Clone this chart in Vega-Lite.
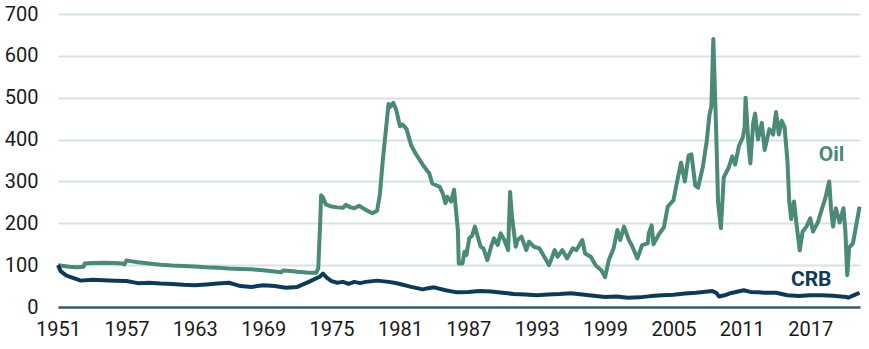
{
  "$schema": "https://vega.github.io/schema/vega-lite/v6.json",
  "width": 802,
  "height": 293,
  "autosize": "none",
  "padding": {"left": 58, "top": 14, "right": 9, "bottom": 42},
  "config": {"view": {"stroke": null}, "font": "Roboto"},
  "datasets": {
    "lines": [
      {"d":"1951-01-01","v":100,"s":"Oil"},{"d":"1951-07-01","v":98,"s":"Oil"},{"d":"1952-01-01","v":96,"s":"Oil"},{"d":"1952-09-01","v":95,"s":"Oil"},{"d":"1953-04-01","v":96,"s":"Oil"},{"d":"1953-05-01","v":104,"s":"Oil"},{"d":"1954-01-01","v":105,"s":"Oil"},{"d":"1955-01-01","v":106,"s":"Oil"},{"d":"1956-01-01","v":105,"s":"Oil"},{"d":"1956-09-01","v":104,"s":"Oil"},{"d":"1956-11-01","v":102,"s":"Oil"},{"d":"1957-01-01","v":111,"s":"Oil"},{"d":"1957-07-01","v":109,"s":"Oil"},{"d":"1958-01-01","v":107,"s":"Oil"},{"d":"1959-01-01","v":104,"s":"Oil"},{"d":"1960-01-01","v":101,"s":"Oil"},{"d":"1961-01-01","v":99,"s":"Oil"},{"d":"1962-01-01","v":98,"s":"Oil"},{"d":"1963-01-01","v":97,"s":"Oil"},{"d":"1964-01-01","v":95,"s":"Oil"},{"d":"1965-01-01","v":94,"s":"Oil"},{"d":"1966-01-01","v":92,"s":"Oil"},{"d":"1967-01-01","v":91,"s":"Oil"},{"d":"1968-01-01","v":90,"s":"Oil"},{"d":"1969-01-01","v":88,"s":"Oil"},{"d":"1970-01-01","v":85,"s":"Oil"},{"d":"1970-08-01","v":83,"s":"Oil"},{"d":"1970-10-01","v":87,"s":"Oil"},{"d":"1971-06-01","v":86,"s":"Oil"},{"d":"1972-01-01","v":84,"s":"Oil"},{"d":"1973-01-01","v":82,"s":"Oil"},{"d":"1973-09-01","v":82,"s":"Oil"},{"d":"1973-11-01","v":92,"s":"Oil"},{"d":"1974-01-01","v":200,"s":"Oil"},{"d":"1974-02-01","v":267,"s":"Oil"},{"d":"1974-04-01","v":262,"s":"Oil"},{"d":"1974-07-01","v":245,"s":"Oil"},{"d":"1975-01-01","v":240,"s":"Oil"},{"d":"1975-07-01","v":238,"s":"Oil"},{"d":"1976-01-01","v":237,"s":"Oil"},{"d":"1976-04-01","v":244,"s":"Oil"},{"d":"1976-09-01","v":238,"s":"Oil"},{"d":"1977-01-01","v":236,"s":"Oil"},{"d":"1977-06-01","v":242,"s":"Oil"},{"d":"1978-01-01","v":232,"s":"Oil"},{"d":"1978-08-01","v":224,"s":"Oil"},{"d":"1979-01-01","v":230,"s":"Oil"},{"d":"1979-04-01","v":270,"s":"Oil"},{"d":"1979-07-01","v":350,"s":"Oil"},{"d":"1979-11-01","v":440,"s":"Oil"},{"d":"1980-01-01","v":485,"s":"Oil"},{"d":"1980-03-01","v":478,"s":"Oil"},{"d":"1980-06-01","v":488,"s":"Oil"},{"d":"1980-09-01","v":472,"s":"Oil"},{"d":"1981-01-01","v":432,"s":"Oil"},{"d":"1981-04-01","v":436,"s":"Oil"},{"d":"1981-08-01","v":425,"s":"Oil"},{"d":"1982-01-01","v":385,"s":"Oil"},{"d":"1982-06-01","v":365,"s":"Oil"},{"d":"1983-01-01","v":340,"s":"Oil"},
      {"d":"1983-08-01","v":319,"s":"Oil"},{"d":"1983-11-01","v":295,"s":"Oil"},{"d":"1984-07-01","v":287,"s":"Oil"},{"d":"1984-10-01","v":272,"s":"Oil"},{"d":"1985-01-01","v":248,"s":"Oil"},{"d":"1985-03-01","v":263,"s":"Oil"},{"d":"1985-07-01","v":252,"s":"Oil"},{"d":"1985-10-01","v":280,"s":"Oil"},{"d":"1986-02-01","v":184,"s":"Oil"},{"d":"1986-03-01","v":104,"s":"Oil"},{"d":"1986-07-01","v":104,"s":"Oil"},{"d":"1986-09-01","v":132,"s":"Oil"},{"d":"1986-11-01","v":124,"s":"Oil"},{"d":"1987-02-01","v":164,"s":"Oil"},{"d":"1987-05-01","v":170,"s":"Oil"},{"d":"1987-08-01","v":192,"s":"Oil"},{"d":"1987-11-01","v":168,"s":"Oil"},{"d":"1988-02-01","v":144,"s":"Oil"},{"d":"1988-05-01","v":140,"s":"Oil"},{"d":"1988-09-01","v":112,"s":"Oil"},{"d":"1989-01-01","v":144,"s":"Oil"},{"d":"1989-04-01","v":164,"s":"Oil"},{"d":"1989-08-01","v":148,"s":"Oil"},{"d":"1989-11-01","v":176,"s":"Oil"},{"d":"1990-03-01","v":160,"s":"Oil"},{"d":"1990-07-01","v":136,"s":"Oil"},{"d":"1990-09-01","v":275,"s":"Oil"},{"d":"1990-11-01","v":216,"s":"Oil"},{"d":"1991-03-01","v":144,"s":"Oil"},{"d":"1991-05-01","v":160,"s":"Oil"},{"d":"1991-09-01","v":168,"s":"Oil"},{"d":"1992-02-01","v":136,"s":"Oil"},{"d":"1992-05-01","v":156,"s":"Oil"},{"d":"1992-10-01","v":144,"s":"Oil"},{"d":"1993-04-01","v":140,"s":"Oil"},{"d":"1993-09-01","v":120,"s":"Oil"},{"d":"1994-02-01","v":100,"s":"Oil"},{"d":"1994-08-01","v":136,"s":"Oil"},{"d":"1994-11-01","v":120,"s":"Oil"},{"d":"1995-04-01","v":136,"s":"Oil"},{"d":"1995-09-01","v":116,"s":"Oil"},{"d":"1996-03-01","v":140,"s":"Oil"},{"d":"1996-07-01","v":136,"s":"Oil"},{"d":"1997-01-01","v":160,"s":"Oil"},{"d":"1997-04-01","v":128,"s":"Oil"},{"d":"1997-10-01","v":120,"s":"Oil"},{"d":"1998-03-01","v":100,"s":"Oil"},{"d":"1998-09-01","v":88,"s":"Oil"},{"d":"1999-01-01","v":71,"s":"Oil"},{"d":"1999-05-01","v":112,"s":"Oil"},{"d":"1999-10-01","v":140,"s":"Oil"},{"d":"2000-02-01","v":184,"s":"Oil"},{"d":"2000-05-01","v":160,"s":"Oil"},{"d":"2000-09-01","v":192,"s":"Oil"},{"d":"2001-02-01","v":160,"s":"Oil"},{"d":"2001-05-01","v":148,"s":"Oil"},{"d":"2001-11-01","v":116,"s":"Oil"},{"d":"2002-04-01","v":148,"s":"Oil"},{"d":"2002-10-01","v":152,"s":"Oil"},{"d":"2002-11-01","v":176,"s":"Oil"},
      {"d":"2003-02-01","v":195,"s":"Oil"},{"d":"2003-04-01","v":150,"s":"Oil"},{"d":"2003-10-01","v":175,"s":"Oil"},{"d":"2004-03-01","v":190,"s":"Oil"},{"d":"2004-07-01","v":240,"s":"Oil"},{"d":"2005-01-01","v":255,"s":"Oil"},{"d":"2005-04-01","v":290,"s":"Oil"},{"d":"2005-09-01","v":345,"s":"Oil"},{"d":"2006-01-01","v":300,"s":"Oil"},{"d":"2006-05-01","v":362,"s":"Oil"},{"d":"2006-08-01","v":365,"s":"Oil"},{"d":"2006-12-01","v":290,"s":"Oil"},{"d":"2007-03-01","v":285,"s":"Oil"},{"d":"2007-08-01","v":335,"s":"Oil"},{"d":"2007-12-01","v":395,"s":"Oil"},{"d":"2008-03-01","v":460,"s":"Oil"},{"d":"2008-05-01","v":480,"s":"Oil"},{"d":"2008-07-01","v":640,"s":"Oil"},{"d":"2008-10-01","v":420,"s":"Oil"},{"d":"2008-12-01","v":250,"s":"Oil"},{"d":"2009-03-01","v":188,"s":"Oil"},{"d":"2009-06-01","v":310,"s":"Oil"},{"d":"2009-11-01","v":332,"s":"Oil"},{"d":"2010-03-01","v":360,"s":"Oil"},{"d":"2010-06-01","v":340,"s":"Oil"},{"d":"2010-10-01","v":385,"s":"Oil"},{"d":"2011-02-01","v":405,"s":"Oil"},{"d":"2011-04-01","v":430,"s":"Oil"},{"d":"2011-05-01","v":500,"s":"Oil"},{"d":"2011-08-01","v":390,"s":"Oil"},{"d":"2011-10-01","v":343,"s":"Oil"},{"d":"2012-01-01","v":440,"s":"Oil"},{"d":"2012-03-01","v":462,"s":"Oil"},{"d":"2012-06-01","v":400,"s":"Oil"},{"d":"2012-10-01","v":440,"s":"Oil"},{"d":"2013-01-01","v":375,"s":"Oil"},{"d":"2013-06-01","v":425,"s":"Oil"},{"d":"2013-10-01","v":412,"s":"Oil"},{"d":"2014-01-01","v":466,"s":"Oil"},{"d":"2014-04-01","v":412,"s":"Oil"},{"d":"2014-07-01","v":445,"s":"Oil"},{"d":"2014-10-01","v":430,"s":"Oil"},{"d":"2015-01-01","v":350,"s":"Oil"},{"d":"2015-03-01","v":252,"s":"Oil"},{"d":"2015-05-01","v":210,"s":"Oil"},{"d":"2015-08-01","v":252,"s":"Oil"},{"d":"2015-11-01","v":190,"s":"Oil"},{"d":"2016-02-01","v":135,"s":"Oil"},{"d":"2016-05-01","v":180,"s":"Oil"},{"d":"2016-09-01","v":192,"s":"Oil"},{"d":"2017-01-01","v":212,"s":"Oil"},{"d":"2017-04-01","v":180,"s":"Oil"},{"d":"2017-09-01","v":202,"s":"Oil"},{"d":"2018-01-01","v":232,"s":"Oil"},{"d":"2018-05-01","v":260,"s":"Oil"},{"d":"2018-09-01","v":300,"s":"Oil"},{"d":"2018-11-01","v":232,"s":"Oil"},{"d":"2019-01-01","v":192,"s":"Oil"},{"d":"2019-04-01","v":236,"s":"Oil"},{"d":"2019-08-01","v":202,"s":"Oil"},{"d":"2019-12-01","v":236,"s":"Oil"},{"d":"2020-02-01","v":182,"s":"Oil"},{"d":"2020-04-01","v":76,"s":"Oil"},{"d":"2020-06-01","v":142,"s":"Oil"},{"d":"2020-10-01","v":152,"s":"Oil"},{"d":"2021-01-01","v":190,"s":"Oil"},{"d":"2021-05-01","v":240,"s":"Oil"},
      {"d":"1951-01-01","v":100,"s":"CRB"},{"d":"1951-04-01","v":85,"s":"CRB"},{"d":"1951-10-01","v":75,"s":"CRB"},{"d":"1952-07-01","v":68,"s":"CRB"},{"d":"1953-01-01","v":63,"s":"CRB"},{"d":"1954-01-01","v":65,"s":"CRB"},{"d":"1955-01-01","v":64,"s":"CRB"},{"d":"1956-01-01","v":63,"s":"CRB"},{"d":"1957-01-01","v":62,"s":"CRB"},{"d":"1958-01-01","v":57,"s":"CRB"},{"d":"1959-01-01","v":58,"s":"CRB"},{"d":"1960-01-01","v":56,"s":"CRB"},{"d":"1961-01-01","v":55,"s":"CRB"},{"d":"1962-01-01","v":53,"s":"CRB"},{"d":"1963-01-01","v":52,"s":"CRB"},{"d":"1964-01-01","v":54,"s":"CRB"},{"d":"1965-01-01","v":56,"s":"CRB"},{"d":"1966-01-01","v":58,"s":"CRB"},{"d":"1966-07-01","v":54,"s":"CRB"},{"d":"1967-01-01","v":50,"s":"CRB"},{"d":"1968-01-01","v":48,"s":"CRB"},{"d":"1969-01-01","v":52,"s":"CRB"},{"d":"1970-01-01","v":50,"s":"CRB"},{"d":"1971-01-01","v":46,"s":"CRB"},{"d":"1972-01-01","v":48,"s":"CRB"},{"d":"1973-01-01","v":60,"s":"CRB"},{"d":"1974-01-01","v":73,"s":"CRB"},{"d":"1974-04-01","v":80,"s":"CRB"},{"d":"1974-08-01","v":70,"s":"CRB"},{"d":"1975-01-01","v":62,"s":"CRB"},{"d":"1975-07-01","v":58,"s":"CRB"},{"d":"1976-01-01","v":60,"s":"CRB"},{"d":"1976-07-01","v":55,"s":"CRB"},{"d":"1977-01-01","v":60,"s":"CRB"},{"d":"1977-07-01","v":57,"s":"CRB"},{"d":"1978-01-01","v":60,"s":"CRB"},{"d":"1979-01-01","v":63,"s":"CRB"},{"d":"1980-01-01","v":60,"s":"CRB"},{"d":"1980-07-01","v":58,"s":"CRB"},{"d":"1981-01-01","v":55,"s":"CRB"},{"d":"1982-01-01","v":48,"s":"CRB"},{"d":"1983-01-01","v":42,"s":"CRB"},{"d":"1983-07-01","v":45,"s":"CRB"},{"d":"1984-01-01","v":47,"s":"CRB"},{"d":"1985-01-01","v":40,"s":"CRB"},{"d":"1986-01-01","v":35,"s":"CRB"},{"d":"1987-01-01","v":36,"s":"CRB"},{"d":"1988-01-01","v":38,"s":"CRB"},{"d":"1989-01-01","v":37,"s":"CRB"},{"d":"1990-01-01","v":34,"s":"CRB"},{"d":"1991-01-01","v":31,"s":"CRB"},{"d":"1992-01-01","v":30,"s":"CRB"},{"d":"1993-01-01","v":28,"s":"CRB"},{"d":"1994-01-01","v":30,"s":"CRB"},{"d":"1995-01-01","v":31,"s":"CRB"},{"d":"1996-01-01","v":33,"s":"CRB"},{"d":"1997-01-01","v":30,"s":"CRB"},{"d":"1998-01-01","v":27,"s":"CRB"},{"d":"1999-01-01","v":24,"s":"CRB"},{"d":"2000-01-01","v":25,"s":"CRB"},{"d":"2001-01-01","v":22,"s":"CRB"},{"d":"2002-01-01","v":23,"s":"CRB"},{"d":"2003-01-01","v":26,"s":"CRB"},{"d":"2004-01-01","v":28,"s":"CRB"},{"d":"2005-01-01","v":29,"s":"CRB"},{"d":"2006-01-01","v":32,"s":"CRB"},{"d":"2007-01-01","v":34,"s":"CRB"},{"d":"2008-06-01","v":38,"s":"CRB"},{"d":"2008-10-01","v":34,"s":"CRB"},{"d":"2009-01-01","v":25,"s":"CRB"},{"d":"2009-07-01","v":28,"s":"CRB"},{"d":"2010-01-01","v":33,"s":"CRB"},{"d":"2011-03-01","v":40,"s":"CRB"},{"d":"2011-10-01","v":36,"s":"CRB"},{"d":"2012-07-01","v":35,"s":"CRB"},{"d":"2013-01-01","v":34,"s":"CRB"},{"d":"2014-01-01","v":34,"s":"CRB"},{"d":"2015-01-01","v":28,"s":"CRB"},{"d":"2016-01-01","v":26,"s":"CRB"},{"d":"2017-01-01","v":28,"s":"CRB"},{"d":"2018-01-01","v":28,"s":"CRB"},{"d":"2019-01-01","v":27,"s":"CRB"},{"d":"2020-03-01","v":24,"s":"CRB"},{"d":"2020-05-01","v":22,"s":"CRB"},{"d":"2021-01-01","v":30,"s":"CRB"},{"d":"2021-05-01","v":34,"s":"CRB"}
    ],
    "labels": [
      {"d":"2018-11-15","v":363,"s":"Oil"},
      {"d":"2017-02-01","v":65,"s":"CRB"}
    ]
  },
  "layer": [
    {
      "data": {"name": "lines"},
      "mark": {"type": "line", "strokeWidth": 4, "strokeJoin": "round", "interpolate": "linear"},
      "encoding": {
        "x": {
          "field": "d", "type": "temporal",
          "scale": {"domain": ["1951-01-01", "2021-05-15"]},
          "axis": {
            "title": null,
            "values": [{"year":1951},{"year":1957},{"year":1963},{"year":1969},{"year":1975},{"year":1981},{"year":1987},{"year":1993},{"year":1999},{"year":2005},{"year":2011},{"year":2017}],
            "format": "%Y",
            "ticks": false,
            "grid": false,
            "domainColor": "#3d5b70",
            "domainWidth": 2.5,
            "labelFont": "Roboto",
            "labelFontSize": 20,
            "labelColor": "#1a1a1a",
            "labelPadding": 12,
            "labelFlush": false,
            "labelOverlap": false
          }
        },
        "y": {
          "field": "v", "type": "quantitative",
          "scale": {"domain": [0, 700], "nice": false},
          "axis": {
            "title": null,
            "values": [0, 100, 200, 300, 400, 500, 600, 700],
            "ticks": false,
            "domain": false,
            "gridColor": "#d6e2ea",
            "gridWidth": 2,
            "labelFont": "Roboto",
            "labelFontSize": 20,
            "labelColor": "#1a1a1a",
            "labelPadding": 20
          }
        },
        "color": {
          "field": "s", "type": "nominal",
          "scale": {"domain": ["Oil", "CRB"], "range": ["#4a8a76", "#0f3a57"]},
          "legend": null
        }
      }
    },
    {
      "data": {"name": "labels"},
      "mark": {"type": "text", "fontSize": 21, "fontWeight": "bold", "font": "Roboto"},
      "encoding": {
        "x": {"field": "d", "type": "temporal"},
        "y": {"field": "v", "type": "quantitative"},
        "text": {"field": "s"},
        "color": {"field": "s", "type": "nominal", "legend": null}
      }
    }
  ]
}
